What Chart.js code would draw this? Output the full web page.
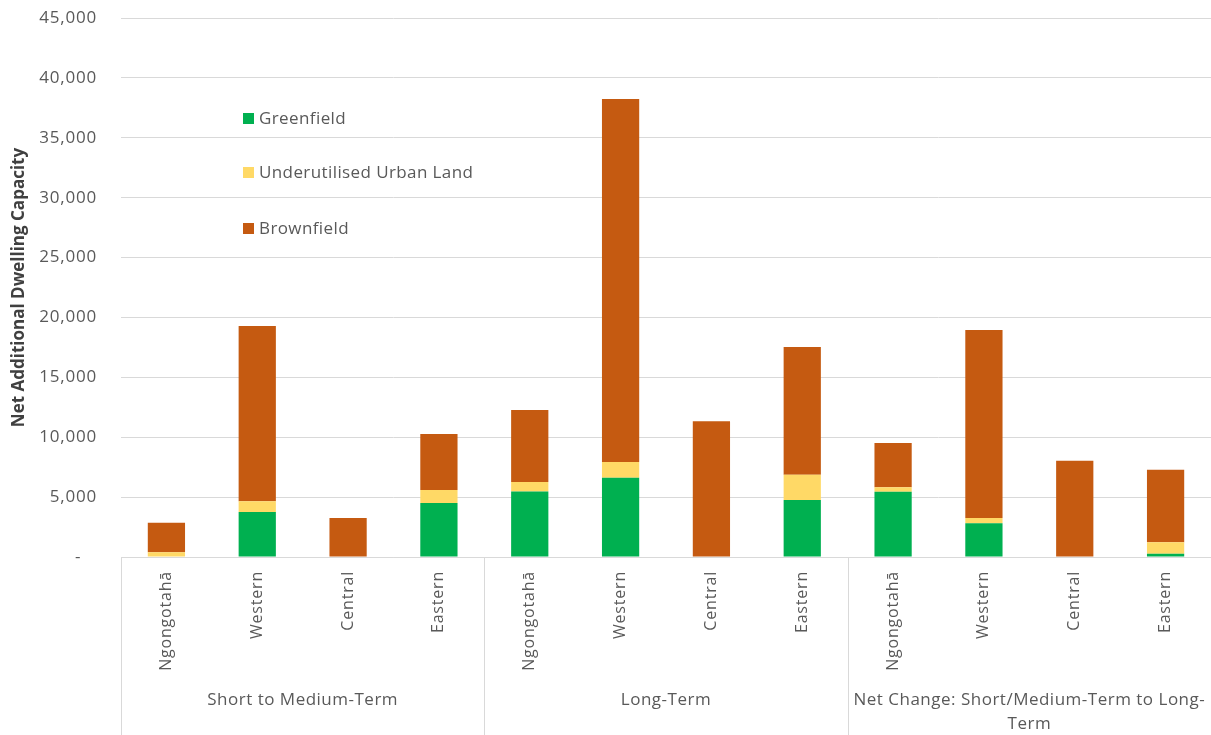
<!DOCTYPE html>
<html>
<head>
<meta charset="utf-8">
<script src="https://cdn.jsdelivr.net/npm/chart.js@4.4.1/dist/chart.umd.min.js"></script>
<style>
  html, body { margin: 0; padding: 0; background: #ffffff; }
  #wrap { width: 1211px; height: 735px; position: relative; }
</style>
</head>
<body>
<div id="wrap"><canvas id="chart" width="1211" height="735"></canvas></div>
<script>
// Areas within each time horizon
const categories = [
  'Ngongotahā', 'Western', 'Central', 'Eastern',
  'Ngongotahā', 'Western', 'Central', 'Eastern',
  'Ngongotahā', 'Western', 'Central', 'Eastern'
];
// Time horizons, each spanning four areas
const groups = [
  ['Short to Medium-Term'],
  ['Long-Term'],
  ['Net Change: Short/Medium-Term to Long-', 'Term']
];
const seriesNames = ['Greenfield', 'Underutilised Urban Land', 'Brownfield'];
const greenfield    = [0, 3760, 0, 4510,   5470, 6620, 0, 4760,    5450, 2810, 0, 280];
const underutilised = [400, 890, 0, 1080,  790, 1310, 0, 2110,     370, 440, 0, 950];
const brownfield    = [2450, 14640, 3260, 4680,  6010, 30310, 11330, 10660,  3700, 15700, 8040, 6060];
const yTicks = { min: 0, max: 45000, step: 5000 };

const colors = ['#00B050', '#FFD966', '#C55A11'];
const textColor = '#595959';
const gridColor = '#d9d9d9';
const fontFamily = "'Open Sans', 'Liberation Sans', sans-serif";

// wrap a scale's label drawing so its text gets a little extra tracking
function spaceLabels(chart, scale, spacing) {
  if (scale._spaced) return;
  const orig = scale.drawLabels.bind(scale);
  scale.drawLabels = (ca) => {
    const c = chart.ctx;
    c.save();
    c.letterSpacing = spacing;
    orig(ca);
    c.restore();
  };
  scale._spaced = true;
}

// Legend placed inside the plot area, plus group labels and group separators under the axis
const decorations = {
  id: 'decorations',
  afterDraw(chart) {
    const ctx = chart.ctx;
    const x = chart.scales.x;
    const area = chart.chartArea;
    const n = categories.length;
    const step = (x.right - x.left) / n;

    ctx.save();
    // separators between horizons, running down from the axis
    ctx.strokeStyle = gridColor;
    ctx.lineWidth = 1;
    for (let i = 0; i <= n; i += 4) {
      const px = Math.round(x.left + i * step) + 0.5;
      ctx.beginPath();
      ctx.moveTo(px, area.bottom);
      ctx.lineTo(px, chart.height);
      ctx.stroke();
    }
    // horizon labels
    ctx.fillStyle = textColor;
    ctx.font = `17px ${fontFamily}`;
    ctx.letterSpacing = '0.5px';
    ctx.textAlign = 'center';
    ctx.textBaseline = 'middle';
    groups.forEach((lines, g) => {
      const cx = (x.getPixelForValue(g * 4) + x.getPixelForValue(g * 4 + 3)) / 2;
      lines.forEach((t, k) => ctx.fillText(t, cx, 700 + k * 24));
    });

    // legend
    ctx.textAlign = 'left';
    ctx.letterSpacing = '0.4px';
    const legendY = [118, 172, 228];
    seriesNames.forEach((name, i) => {
      ctx.fillStyle = colors[i];
      ctx.fillRect(243, legendY[i] - 5, 11, 11);
      ctx.fillStyle = textColor;
      ctx.fillText(name, 259, legendY[i] + 1);
    });
    ctx.restore();
  },
  afterLayout(chart) {
    spaceLabels(chart, chart.scales.x, '0.8px');
    spaceLabels(chart, chart.scales.y, '0.8px');
  }
};

const mk = (label, data, i) => ({
  label, data,
  backgroundColor: colors[i],
  borderWidth: 0,
  barPercentage: 0.41,
  categoryPercentage: 1.0,
  stack: 'capacity'
});

new Chart(document.getElementById('chart'), {
  type: 'bar',
  data: {
    labels: categories,
    datasets: [
      mk(seriesNames[0], greenfield, 0),
      mk(seriesNames[1], underutilised, 1),
      mk(seriesNames[2], brownfield, 2)
    ]
  },
  options: {
    responsive: false,
    animation: false,
    layout: { padding: { top: 18, right: 0, left: 0, bottom: 0 } },
    plugins: {
      legend: { display: false },
      tooltip: { enabled: false }
    },
    scales: {
      x: {
        stacked: true,
        grid: { display: false },
        border: { display: true, color: gridColor },
        ticks: {
          color: textColor,
          font: { family: fontFamily, size: 16 },
          minRotation: 90,
          maxRotation: 90,
          padding: 6,
          autoSkip: false
        },
        afterFit(scale) { scale.height = 178; }
      },
      y: {
        stacked: true,
        min: yTicks.min,
        max: yTicks.max,
        grid: { color: gridColor, drawTicks: true, tickLength: 24, tickColor: 'rgba(0,0,0,0)' },
        border: { display: false },
        ticks: {
          stepSize: yTicks.step,
          color: textColor,
          padding: 0,
          font: { family: fontFamily, size: 17 },
          callback: (v) => v === 0 ? '-   ' : v.toLocaleString('en-US')
        },
        title: {
          display: true,
          text: 'Net Additional Dwelling Capacity',
          color: '#404040',
          font: { family: fontFamily, size: 17, weight: 'bold' },
          padding: { top: 9, bottom: 0 }
        },
        afterFit(scale) { scale.width = 121; }
      }
    }
  },
  plugins: [decorations]
});
</script>
</body>
</html>
